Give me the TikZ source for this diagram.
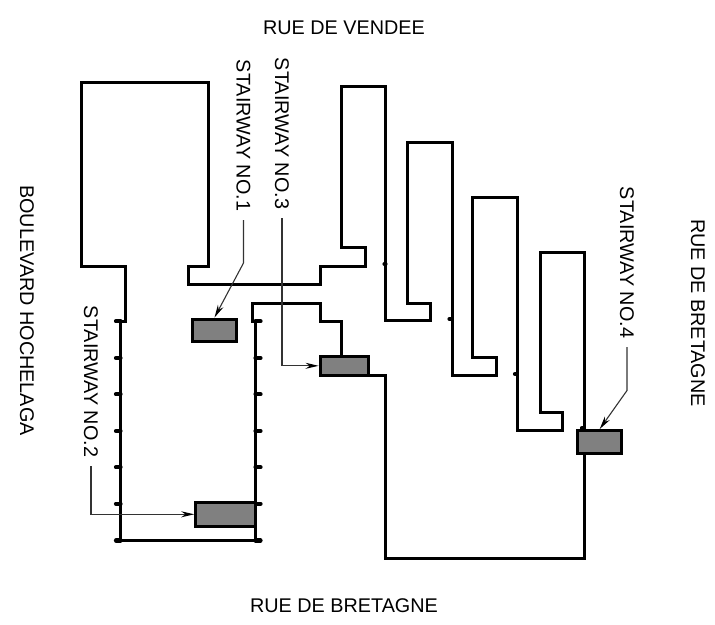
\documentclass[tikz,border=0pt]{standalone}
\usepackage{fontspec}
\setmainfont{Liberation Sans}
\usetikzlibrary{arrows.meta}

\begin{document}
\begin{tikzpicture}[
    x=1pt,
    y=-1pt,
    wall/.style={line width=3pt, line join=miter, line cap=butt},
    stub/.style={line width=4.2pt, line cap=round},
    stair/.style={draw, line width=3pt, fill=black!50, inner sep=0pt},
    street/.style={font=\fontsize{19.8}{20}\selectfont, inner sep=0pt},
    sign/.style={street, rotate=-90, outer xsep=9pt},
    leader/.style={line width=1.1pt, black!80, -{Stealth[length=13pt, width=6pt, black]}}
]

\useasboundingbox (0,0) rectangle (715,624);

\draw[wall] (120.5,321.3) -- (125.5,321.3) -- (125.5,266) -- (81,266) -- (81,82) -- (208,82) -- (208,266)
    -- (188.5,266) -- (188.5,284) -- (320,284) -- (320,266) -- (365,266) -- (365,247)
    -- (341.5,247) -- (341.5,86) -- (385.5,86) -- (385.5,320.5) -- (430,320.5)
    -- (430,303) -- (407,303) -- (407,142) -- (452,142) -- (452,375) -- (496,375)
    -- (496,357.5) -- (472.5,357.5) -- (472.5,197) -- (517.5,197) -- (517.5,430)
    -- (562.5,430) -- (562.5,412.5) -- (540,412.5) -- (540,252) -- (584.5,252)
    -- (584.5,558) -- (385.5,558) -- (385.5,375) -- (368,375);
\draw[wall] (341.5,357) -- (341.5,321.5) -- (320,321.5) -- (320,303.5) -- (252.5,303.5) -- (252.5,321.3) -- (255.5,321.3);
\draw[wall] (120.5,321) -- (120.5,540.5) -- (255.5,540.5) -- (255.5,321);

\draw[stub]
    (116,321.3) -- (120.5,321.3)
    (116,358) -- (120.5,358)
    (116,394.3) -- (120.5,394.3)
    (116,431) -- (120.5,431)
    (116,467.3) -- (120.5,467.3)
    (116,503.7) -- (120.5,503.7)
    (116,540.5) -- (120.5,540.5)
    (255.5,321.3) -- (260.5,321.3)
    (255.5,358) -- (260.5,358)
    (255.5,394.3) -- (260.5,394.3)
    (255.5,431) -- (260.5,431)
    (255.5,467.3) -- (260.5,467.3)
    (255.5,503.7) -- (260.5,503.7)
    (255.5,540.5) -- (260.5,540.5)
    (384.5,264) -- (385.5,264)
    (449.5,319) -- (451,319)
    (515,374) -- (516.5,374)
    (582,428) -- (583.5,428)
    ;

\node[stair, minimum width=44.5pt, minimum height=22.5pt] (stair1) at (214.5,330.3) {};
\node[stair, minimum width=60pt, minimum height=23.5pt] (stair2) at (225.7,514.3) {};
\node[stair, minimum width=48.7pt, minimum height=18.5pt] (stair3) at (344.4,365.8) {};
\node[stair, minimum width=44pt, minimum height=22.5pt] (stair4) at (599.7,441.8) {};

\node[street] (vendee) at (344,28) {RUE DE VENDEE};
\node[street] (bretagneS) at (344,606) {RUE DE BRETAGNE};
\node[street, rotate=-90] (hochelaga) at (27,310.5) {BOULEVARD HOCHELAGA};
\node[street, rotate=-90] (bretagneE) at (698,313) {RUE DE BRETAGNE};

\node[sign] (sign1) at (243.5,135.5) {STAIRWAY NO.1};
\node[sign] (sign2) at (91,381.5) {STAIRWAY NO.2};
\node[sign] (sign3) at (282,133.5) {STAIRWAY NO.3};
\node[sign] (sign4) at (627,262.5) {STAIRWAY NO.4};

\coordinate (bend1) at (243.5,263);
\coordinate (bend2) at (91,514.3);
\coordinate (bend3) at (282,365.8);
\coordinate (bend4) at (627,390.5);

\draw[leader] (sign1.east) -- (bend1) -- (stair1.north);
\draw[leader] (sign2.east) -- (bend2) -- (stair2.west);
\draw[leader] (sign3.east) -- (bend3) -- (stair3.west);
\draw[leader] (sign4.east) -- (bend4) -- (stair4.north);

\end{tikzpicture}
\end{document}
